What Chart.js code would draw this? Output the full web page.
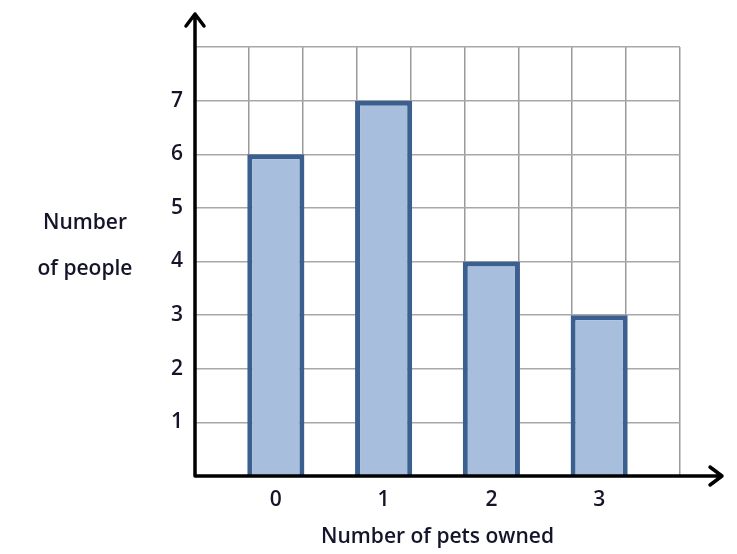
<!DOCTYPE html>
<html>
<head>
<meta charset="utf-8">
<script src="https://cdn.jsdelivr.net/npm/chart.js@4"></script>
<style>
  body { margin: 0; background: #fff; }
  #wrap { position: relative; width: 737px; height: 554px; }
  #yTitle {
    position: absolute; left: 18px; top: 198px; width: 134px;
    text-align: center; font: 600 21px "Open Sans", sans-serif; color: #14142a;
    line-height: 46px;
  }
</style>
</head>
<body>
<div id="wrap">
  <canvas id="chart" width="737" height="554"></canvas>
  <div id="yTitle">Number<br>of people</div>
</div>
<script>
// Chart data
const pets = ['0', '1', '2', '3'];
const people = [6, 7, 4, 3];
const yTicks = [1, 2, 3, 4, 5, 6, 7];
const xTitle = 'Number of pets owned';

// each bar sits in its own grid column with an empty column between
let labels = [''];
let values = [null];
pets.forEach((p, i) => {
    labels.push(p, '');
    values.push(people[i], null);
});

const font = { family: '"Open Sans", sans-serif', size: 21, weight: '600' };

// axis lines with arrow heads
const arrowAxes = {
    id: 'arrowAxes',
    afterDraw(chart) {
        const ctx = chart.ctx;
        const a = chart.chartArea;
        ctx.save();
        ctx.strokeStyle = '#000';
        ctx.lineWidth = 3.5;
        ctx.lineCap = 'round';
        ctx.lineJoin = 'round';
        ctx.beginPath();
        ctx.moveTo(a.left, a.bottom);
        ctx.lineTo(a.left, 14);
        ctx.moveTo(a.left - 9, 26);
        ctx.lineTo(a.left, 14);
        ctx.lineTo(a.left + 9, 26);
        ctx.moveTo(a.left, a.bottom);
        ctx.lineTo(722, a.bottom);
        ctx.moveTo(710, a.bottom - 9);
        ctx.lineTo(722, a.bottom);
        ctx.lineTo(710, a.bottom + 9);
        ctx.stroke();
        ctx.restore();
    }
};

new Chart(document.getElementById('chart').getContext('2d'), {
    type: 'bar',
    data: {
        labels: labels,
        datasets: [{
            data: values,
            backgroundColor: '#a7bfdd',
            borderColor: '#3b5f8e',
            borderWidth: { top: 5, left: 5, right: 5, bottom: 0 },
            borderSkipped: false,
            barPercentage: 1.06,
            categoryPercentage: 1
        }]
    },
    options: {
        responsive: false,
        animation: false,
        layout: { padding: { top: 47, right: 57, left: 0, bottom: 0 } },
        plugins: { legend: { display: false }, tooltip: { enabled: false } },
        scales: {
            x: {
                offset: true,
                border: { display: false },
                grid: { offset: true, color: '#9a9a9a', lineWidth: 1.5, drawTicks: false },
                ticks: { autoSkip: false, maxRotation: 0, padding: 11, color: '#14142a', font: font },
                title: { display: true, text: xTitle, color: '#14142a', font: font, padding: { top: 8 } },
                afterFit(scale) { scale.height = 78; }
            },
            y: {
                min: 0,
                max: 8,
                border: { display: false },
                grid: { color: '#a8a8a8', lineWidth: 1.5, drawTicks: false },
                ticks: {
                    stepSize: 1,
                    padding: 12,
                    color: '#14142a',
                    font: font,
                    callback: v => yTicks.includes(v) ? String(v) : ''
                },
                afterFit(scale) { scale.width = 195; }
            }
        }
    },
    plugins: [arrowAxes]
});
</script>
</body>
</html>
